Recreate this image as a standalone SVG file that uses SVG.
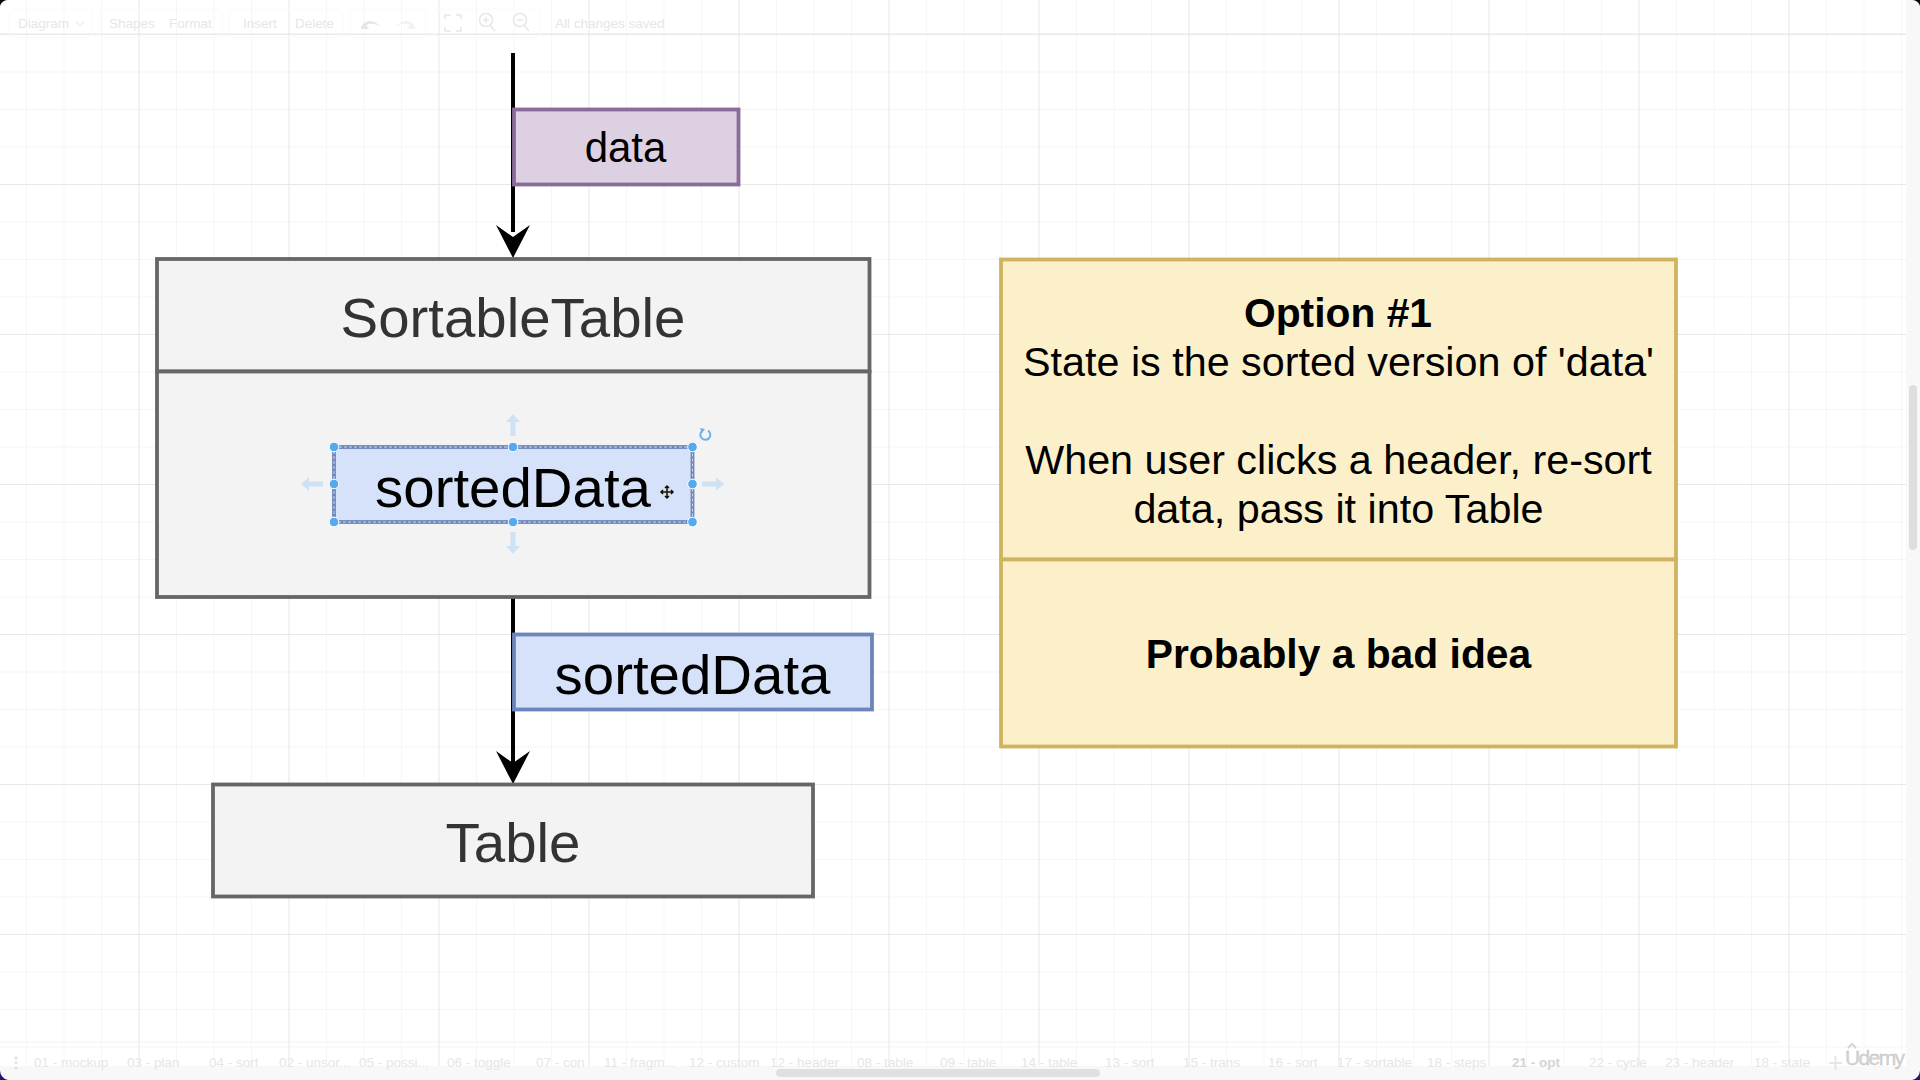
<svg xmlns="http://www.w3.org/2000/svg" width="1920" height="1080" viewBox="0 0 1920 1080">
<style>
text{font-family:"Liberation Sans",Arial,sans-serif}
.n{stroke-width:3.800}
.grey{fill:#f3f3f3;stroke:#666}
.yel{fill:#fcf0ca;stroke:#cfb35e}
.blue{fill:#d6e2f9;stroke:#6c86bc}
.big{font-size:56.400px;text-anchor:middle;fill:#000}
.dark{fill:#333}
.note{font-size:41.300px;text-anchor:middle;fill:#000}
.b{font-weight:bold;font-size:40.800px}
.ui{font-size:13.500px;fill:#e6e6e6}
.tab{font-size:13.500px;fill:#e6e6e6}
.box{fill:none;stroke:#fafafa;stroke-width:1}
.ic{fill:none;stroke:#e8e8e8;stroke-width:1.600}
.h{fill:#55a9ee;stroke:#fff;stroke-width:1}
.ha{fill:#cfe2f3}
</style>
<defs>
<pattern id="minor" patternUnits="userSpaceOnUse" x="26" y="34" width="37.500" height="37.500"><path d="M0 0H37.500M0 0V37.500" fill="none" stroke="#f2f2f2" stroke-width="1.400"/></pattern>
<pattern id="major" patternUnits="userSpaceOnUse" x="138.500" y="34" width="150" height="150"><path d="M0 0H150M0 0V150" fill="none" stroke="#e4e4e4" stroke-width="1.400"/></pattern>
<path id="arrow" d="M0 0L-17-33L0-21L17-33Z" fill="#000"/>
<path id="ha" d="M0-11L7-3H2.500V11H-2.500V-3H-7Z"/>
</defs>
<rect width="1920" height="1080" fill="#fff"/>
<rect width="1906" height="1066" fill="url(#minor)"/>
<rect width="1906" height="1066" fill="url(#major)"/>
<path d="M0 34H1906" stroke="#eaeaea" stroke-width="1.200"/>
<path d="M0 1042H1780" stroke="#f2f2f2" stroke-width="1.200"/>
<rect x="1906" y="0" width="14" height="1080" fill="#f8f8f8"/>
<rect x="0" y="1066" width="1920" height="14" fill="#f8f8f8"/>
<rect x="1909" y="385" width="8" height="165" rx="4" fill="#dedede"/>
<rect x="776" y="1069" width="324" height="8" rx="4" fill="#e0e0e0"/>
<path d="M0 0H8A8 8 0 0 0 0 10Z" fill="#000"/>
<path d="M1920 0H1912A8 8 0 0 1 1920 10Z" fill="#000"/>
<path d="M0 1080H8A10 10 0 0 1 0 1070Z" fill="#24156a"/>
<path d="M1920 1080H1912A10 10 0 0 0 1920 1070Z" fill="#24156a"/>
<g id="toolbar">
<rect class="box" x="9" y="9" width="83" height="28" rx="4"/>
<rect class="box" x="99" y="9" width="123" height="28" rx="4"/>
<rect class="box" x="229" y="9" width="114" height="28" rx="4"/>
<rect class="box" x="350" y="9" width="76" height="28" rx="4"/>
<rect class="box" x="434" y="9" width="106" height="28" rx="4"/>
<text class="ui" x="18" y="27.500">Diagram</text>
<path class="ic" d="M76 21L80 26L84 21" style="stroke:#f0f0f0"/>
<text class="ui" x="109" y="27.500">Shapes</text>
<text class="ui" x="169" y="27.500">Format</text>
<text class="ui" x="243" y="27.500">Insert</text>
<text class="ui" x="295" y="27.500">Delete</text>
<path d="M361 27C365 19 374 19 381 27C375 23 370 23 366 25L369 29L361 29Z" fill="#e6e6e6"/>
<path d="M415 27C411 19 402 19 395 27C401 23 406 23 410 25L407 29L415 29Z" fill="#f2f2f2"/>
<path class="ic" d="M445 19V15H451M456 15H461V19M461 27V31H456M451 31H445V27"/>
<circle class="ic" cx="486" cy="20" r="6.500"/><path class="ic" d="M490 25L495 31M483 20H489M486 17V23"/>
<circle class="ic" cx="520" cy="20" r="6.500"/><path class="ic" d="M524 25L529 31M517 20H523"/>
<text class="ui" x="555" y="27.500">All changes saved</text>
</g>
<g id="tabs">
<circle cx="16" cy="1058" r="1.500" fill="#e0e0e0"/><circle cx="16" cy="1063" r="1.500" fill="#e0e0e0"/><circle cx="16" cy="1068" r="1.500" fill="#e0e0e0"/>
<text class="tab" x="34" y="1067">01 - mockup</text>
<text class="tab" x="127" y="1067">03 - plan</text>
<text class="tab" x="209" y="1067">04 - sort</text>
<text class="tab" x="279" y="1067">02 - unsor...</text>
<text class="tab" x="359" y="1067">05 - possi...</text>
<text class="tab" x="447" y="1067">06 - toggle</text>
<text class="tab" x="536" y="1067">07 - con</text>
<text class="tab" x="604" y="1067">11 - fragm...</text>
<text class="tab" x="689" y="1067">12 - custom</text>
<text class="tab" x="770" y="1067">12 - header</text>
<text class="tab" x="857" y="1067">08 - table</text>
<text class="tab" x="940" y="1067">09 - table</text>
<text class="tab" x="1021" y="1067">14 - table</text>
<text class="tab" x="1105" y="1067">13 - sort</text>
<text class="tab" x="1183" y="1067">15 - trans</text>
<text class="tab" x="1268" y="1067">16 - sort</text>
<text class="tab" x="1337" y="1067">17 - sortable</text>
<text class="tab" x="1427" y="1067">18 - steps</text>
<text class="tab" x="1512" y="1067" style="fill:#d4d4d4;font-weight:bold">21 - opt</text>
<text class="tab" x="1589" y="1067">22 - cycle</text>
<text class="tab" x="1665" y="1067">23 - header</text>
<text class="tab" x="1754" y="1067">18 - state</text>
<path d="M1829 1063H1842M1835.500 1056V1070" stroke="#e6e6e6" stroke-width="2" fill="none"/>
<text x="1845" y="1065" font-size="21" fill="#d4d4d4" stroke="#bbb" stroke-width=".3" textLength="60">Udemy</text>
<path d="M1848 1048L1852 1044L1856 1048" fill="none" stroke="#d4d4d4" stroke-width="2"/>
</g>
<g id="connectors" fill="none" stroke="#000" stroke-width="4">
<path d="M513 53V232"/>
<path d="M513 597V766"/>
<use href="#arrow" x="513" y="258" stroke="none"/>
<use href="#arrow" x="513" y="784" stroke="none"/>
</g>
<g id="data"><rect class="n" x="514" y="109.500" width="224.500" height="75" fill="#dcd0e2" stroke="#8b6b9c"/><text class="big" style="font-size:42px" x="625.500" y="162">data</text></g>
<g id="SortableTable">
<rect class="n grey" x="157" y="259" width="712.500" height="112.500"/>
<rect class="n grey" x="157" y="371.500" width="712.500" height="225.500"/>
<text class="big dark" x="513" y="337">SortableTable</text>
</g>
<g id="sortedDataState">
<rect class="n blue" x="334" y="447" width="358.500" height="75"/>
<rect x="334" y="447" width="358.500" height="75" fill="none" stroke="#cfd6e4" stroke-width="1" stroke-dasharray="3 2"/>
<text class="big" x="513" y="507">sortedData</text>
</g>
<g id="selection">
<use href="#ha" class="ha" x="513" y="425"/>
<use href="#ha" class="ha" transform="translate(513 543) rotate(180)"/>
<use href="#ha" class="ha" transform="translate(312 484) rotate(-90)"/>
<use href="#ha" class="ha" transform="translate(713 484) rotate(90)"/>
<circle class="h" cx="334" cy="447" r="4.800"/><circle class="h" cx="513" cy="447" r="4.800"/><circle class="h" cx="692.500" cy="447" r="4.800"/>
<circle class="h" cx="334" cy="484" r="4.800"/><circle class="h" cx="692.500" cy="484" r="4.800"/>
<circle class="h" cx="334" cy="522" r="4.800"/><circle class="h" cx="513" cy="522" r="4.800"/><circle class="h" cx="692.500" cy="522" r="4.800"/>
<path d="M708 430.500A5 5 0 1 1 702 431" fill="none" stroke="#6ab0ea" stroke-width="2"/><path d="M700 428L705 429L702 433Z" fill="#6ab0ea"/>
<path d="M667 484L674 492L667 499L660 492Z" fill="#ddd"/>
<path d="M667 486V498M661 492H673M665 488L667 486L669 488M665 496L667 498L669 496M663 490L661 492L663 494M671 490L673 492L671 494" fill="none" stroke="#111" stroke-width="1.500"/>
</g>
<g id="sortedDataProp"><rect class="n blue" x="514" y="634.500" width="358" height="75"/><text class="big" x="692.500" y="694">sortedData</text></g>
<g id="Table"><rect class="n grey" x="213" y="784.500" width="600" height="112"/><text class="big dark" x="513" y="862">Table</text></g>
<g id="option1">
<rect class="n yel" x="1001" y="259.500" width="675" height="300"/>
<rect class="n yel" x="1001" y="559.500" width="675" height="187"/>
<text class="note b" x="1338" y="327">Option #1</text>
<text class="note" x="1338.500" y="376">State is the sorted version of 'data'</text>
<text class="note" x="1338.500" y="474">When user clicks a header, re-sort</text>
<text class="note" x="1338.500" y="523">data, pass it into Table</text>
<text class="note b" x="1338.500" y="668">Probably a bad idea</text>
</g>
</svg>
